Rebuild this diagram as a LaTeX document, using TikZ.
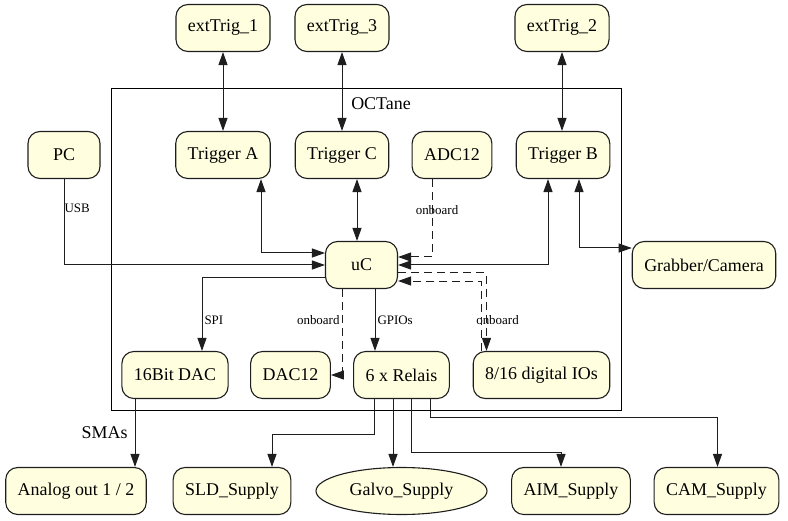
\documentclass[tikz,border=0pt]{standalone}
\usepackage{fontspec}
\setmainfont{LiberationSerif}[Extension=.ttf, UprightFont=*-Regular, BoldFont=*-Bold]
\usepackage{tikz}
\usetikzlibrary{arrows.meta, positioning, shapes.geometric}
\definecolor{boxfill}{RGB}{255,255,224}
\definecolor{edgegray}{RGB}{30,30,30}

\begin{document}
\begin{tikzpicture}[
  x=1bp, y=-1bp,
  >={Triangle[length=13bp, width=9bp]},
  comp/.style={rectangle, draw=edgegray, fill=boxfill, line width=1.1bp,
    rounded corners=12bp, minimum height=47bp, minimum width=72bp,
    inner xsep=12bp, font=\fontsize{18}{20}\selectfont},
  supply/.style={ellipse, draw=edgegray, fill=boxfill, line width=1.1bp,
    minimum height=47bp, minimum width=171bp, inner sep=0pt,
    font=\fontsize{18}{20}\selectfont},
  cluster/.style={draw=black, line width=1bp},
  arr/.style={->, line width=1bp, draw=edgegray},
  biarr/.style={<->, line width=1bp, draw=edgegray},
  dsh/.style={dash pattern=on 8bp off 5bp},
  lbl/.style={font=\fontsize{13}{15}\selectfont, inner sep=2bp},
  biglbl/.style={font=\fontsize{18}{20}\selectfont, inner sep=2bp},
]
\useasboundingbox (0,0) rectangle (788,521);

\draw[cluster] (111,89) rectangle (621,410);
\node[biglbl] (octane) at (381,104) {OCTane};

\node[comp] (ext1) at (223,28) {extTrig\_1};
\node[comp] (ext3) at (342,28) {extTrig\_3};
\node[comp] (ext2) at (562,28) {extTrig\_2};

\node[comp] (pc) at (64,155) {PC};
\node[comp] (trigA) at (223,155) {Trigger A};
\node[comp] (trigC) at (342,155) {Trigger C};
\node[comp] (adc) at (452,155) {ADC12};
\node[comp] (trigB) at (563,155) {Trigger B};

\node[comp] (uc) at (361.5,265) {uC};
\node[comp] (grab) at (704,265) {Grabber/Camera};

\node[comp] (dac16) at (175,375) {16Bit DAC};
\node[comp] (dac12) at (290.5,375) {DAC12};
\node[comp] (relais) at (401.5,375) {6 x Relais};
\node[comp] (dio) at (541.5,375) {8/16 digital IOs};

\node[comp] (analog) at (76,491) {Analog out 1 / 2};
\node[comp] (sld) at (232,491) {SLD\_Supply};
\node[supply] (galvo) at (401.5,491) {Galvo\_Supply};
\node[comp] (aim) at (571,491) {AIM\_Supply};
\node[comp] (cam) at (716.5,491) {CAM\_Supply};

\draw[biarr] (ext1) -- (trigA);
\draw[biarr] (ext3) -- (trigC);
\draw[biarr] (ext2.south) -- (ext2.south |- trigB.north);

\draw[arr] (pc.south) |- node[lbl, right, pos=0.17, inner sep=0pt] {USB} (uc.west);
\draw[biarr] ([xshift=38bp]trigA.south) |- ([yshift=12bp]uc.west);
\draw[biarr] ([xshift=15bp]trigC.south) -- ([xshift=15bp]trigC.south |- uc.north);
\draw[arr, dsh] ([xshift=-20bp]adc.south) |- node[lbl, pos=0.2, xshift=5bp] {onboard} ([yshift=8bp]uc.east);
\draw[biarr] ([xshift=-15bp]trigB.south) |- (uc.east);
\draw[biarr] ([xshift=16bp]trigB.south) |- ([yshift=17bp]grab.west);

\draw[arr] ([yshift=-12bp]uc.west) -| node[lbl, right, pos=0.79] {SPI} ([xshift=27bp]dac16.north);
\draw[arr, dsh] ([xshift=-19.5bp]uc.south) |- node[lbl, left, pos=0.18] {onboard} (dac12.east);
\draw[arr] ([xshift=13.5bp]uc.south) -- node[lbl, right, pos=0.5] {GPIOs} ([xshift=13.5bp]uc.south |- relais.north);
\draw[arr, dsh] ([yshift=-8bp]uc.east) -| node[lbl, pos=0.8, xshift=11bp] {onboard} ([xshift=-55bp]dio.north);
\draw[arr, dsh] ([xshift=-60bp]dio.north) |- ([yshift=-16bp]uc.east);

\draw[arr] ([xshift=-40bp]dac16.south) -- node[biglbl, left, pos=0.5, xshift=-5bp] {SMAs} ([xshift=-40bp]dac16.south |- analog.north);

\draw[arr] ([xshift=-27bp]relais.south) -- ++(0,35) -| ([xshift=40bp]sld.north);
\draw[arr] ([xshift=-8.5bp]relais.south) -- ([xshift=-8.5bp]relais.south |- galvo.north);
\draw[arr] ([xshift=10bp]relais.south) -- ++(0,53) -| ([xshift=-10bp]aim.north);
\draw[arr] ([xshift=29bp]relais.south) -- ++(0,18) -| ([xshift=1bp]cam.north);

\end{tikzpicture}
\end{document}
